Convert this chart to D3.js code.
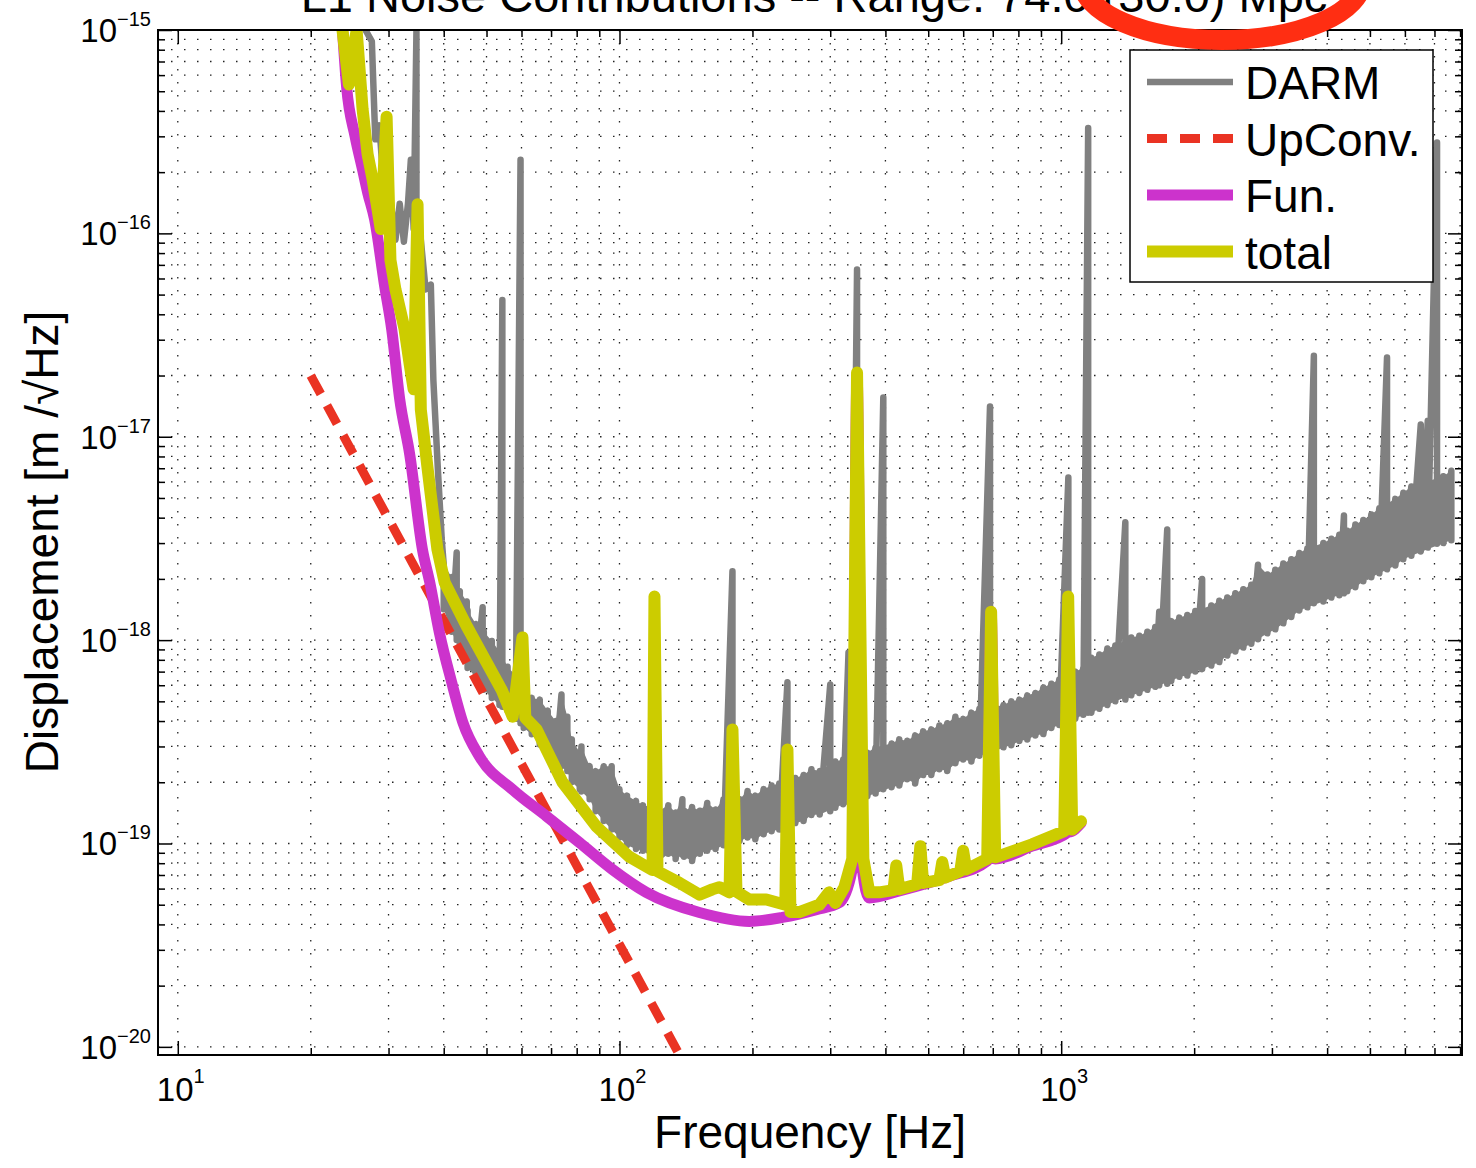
<!DOCTYPE html>
<html>
<head>
<meta charset="utf-8">
<script src="https://cdn.jsdelivr.net/npm/d3@7"></script>
<style>
  body { margin: 0; background: #fff; }
  svg { display: block; font-family: Helvetica, Arial, "Liberation Sans", sans-serif; }
</style>
</head>
<body>
<div id="chart"></div>
<script>
// ---- data ----

// DARM: dense spectrum, stored as min/max per frequency bin (plus single-valued trace at low f)
var darmFreq = [
  26.6, 27.5, 28.0, 28.6, 29.2, 30.2, 31.1, 31.8, 32.5, 33.2,
  33.7, 34.2, 34.7, 35.5, 36.4, 37.4, 37.9, 38.8, 39.6, 40,
  41.7, 42.8, 43.5, 45.1, 45.3, 47.3, 49.0, 49.3, 51.4, 53.5,
  54.3, 55.8, 58.2, 59.7, 60.7, 63.3, 66, 68.8, 71.7, 73.9,
  76.2, 78, 81.3, 82, 85.6, 88.3, 92.1, 96, 100, 104,
  109, 113, 118, 123, 129, 134, 138.8, 140, 146, 152,
  158, 165, 172, 180.2, 187, 195, 203, 212, 221, 230,
  240, 250, 261, 272, 284, 300, 308, 321, 330, 335,
  345, 364, 380, 395.6, 413, 430, 448, 467, 487, 508,
  530, 552, 576, 600, 626, 653, 690, 709, 740, 771,
  804, 838, 874, 911, 950, 990, 1038, 1076, 1122, 1151,
  1170, 1220, 1272, 1326, 1397, 1441, 1503, 1567, 1633, 1667,
  1738, 1775, 1851, 1930, 2012, 2085, 2187, 2280, 2377, 2479,
  2584, 2694, 2790, 2929, 3053, 3183, 3319, 3460, 3608, 3733,
  3922, 4089, 4263, 4367, 4444, 4634, 4831, 5037, 5251, 5466,
  5708, 5951, 6205, 6517, 6760, 7094, 7331, 7643
];
var darmHigh = [
  1.0e-15, 8.8e-16, 2.9e-16, 3.4e-16, 1.8e-16, 1.55e-16, 9.3e-17, 1.4e-16, 9.1e-17, 1.4e-16,
  2.3e-16, 1.05e-16, 1.0e-15, 9.3e-17, 5.3e-17, 5.6e-17, 1.9e-17, 6.9e-18, 3.1e-18, 2.36e-18,
  2.04e-18, 2.7e-18, 1.74e-18, 1.55e-18, 1.4e-18, 1.2e-18, 1.45e-18, 1.1e-18, 9.9e-19, 8.8e-19,
  4.7e-17, 7.4e-19, 6.7e-19, 2.3e-16, 5.9e-19, 5.2e-19, 5.1e-19, 4.5e-19, 4.0e-19, 5.4e-19,
  4.2e-19, 3.25e-19, 2.8e-19, 3.0e-19, 2.4e-19, 2.27e-19, 2.4e-19, 2.4e-19, 1.85e-19, 1.72e-19,
  1.62e-19, 1.54e-19, 1.51e-19, 1.45e-19, 1.54e-19, 1.42e-19, 1.65e-19, 1.45e-19, 1.51e-19, 1.45e-19,
  1.58e-19, 1.47e-19, 1.65e-19, 2.18e-18, 1.65e-19, 1.81e-19, 1.72e-19, 1.85e-19, 1.93e-19, 1.97e-19,
  6.2e-19, 2.1e-19, 2.17e-19, 2.32e-19, 2.27e-19, 6.05e-19, 2.53e-19, 2.59e-19, 8.7e-19, 2.7e-19,
  6.65e-17, 2.8e-19, 2.97e-19, 1.56e-17, 3.1e-19, 3.25e-19, 3.2e-19, 3.4e-19, 3.56e-19, 3.64e-19,
  3.8e-19, 3.9e-19, 4.2e-19, 4.1e-19, 4.4e-19, 4.6e-19, 1.41e-17, 4.7e-19, 4.8e-19, 5.0e-19,
  5.1e-19, 5.35e-19, 5.5e-19, 5.85e-19, 6.1e-19, 6.4e-19, 6.3e-18, 7.0e-19, 7.3e-19, 3.3e-16,
  8.2e-19, 8.5e-19, 9.1e-19, 9.4e-19, 3.8e-18, 1.03e-18, 1.05e-18, 1.1e-18, 1.16e-18, 1.38e-18,
  3.5e-18, 1.24e-18, 1.29e-18, 1.33e-18, 1.39e-18, 2.0e-18, 1.48e-18, 1.56e-18, 1.62e-18, 1.7e-18,
  1.78e-18, 1.87e-18, 2.35e-18, 2.1e-18, 2.22e-18, 2.38e-18, 2.5e-18, 2.68e-18, 2.82e-18, 2.5e-17,
  3.0e-18, 3.15e-18, 3.3e-18, 4.1e-18, 3.45e-18, 3.7e-18, 3.9e-18, 4.15e-18, 4.45e-18, 2.45e-17,
  4.95e-18, 5.3e-18, 5.7e-18, 1.15e-17, 1.2e-17, 2.8e-16, 6.4e-18, 6.8e-18
];
var darmLow = [
  1.0e-15, 8.8e-16, 2.9e-16, 3.4e-16, 1.8e-16, 1.55e-16, 9.3e-17, 1.4e-16, 9.1e-17, 1.4e-16,
  2.3e-16, 1.05e-16, 1.1e-16, 9.3e-17, 5.3e-17, 5.6e-17, 1.9e-17, 6.9e-18, 3.1e-18, 1.42e-18,
  1.1e-18, 1.0e-18, 9.0e-19, 7.8e-19, 7.3e-19, 6.6e-19, 5.9e-19, 5.7e-19, 5.2e-19, 4.8e-19,
  4.7e-19, 4.5e-19, 4.1e-19, 3.9e-19, 3.7e-19, 3.44e-19, 3.07e-19, 2.8e-19, 2.45e-19, 2.4e-19,
  2.27e-19, 2.0e-19, 1.85e-19, 1.8e-19, 1.65e-19, 1.44e-19, 1.29e-19, 1.17e-19, 1.07e-19, 9.8e-20,
  9.4e-20, 9.2e-20, 8.6e-20, 8.2e-20, 8.9e-20, 8.4e-20, 8.8e-20, 8.6e-20, 8.2e-20, 8.9e-20,
  9.2e-20, 9.4e-20, 9.8e-20, 9.9e-20, 1.03e-19, 1.07e-19, 1.05e-19, 1.11e-19, 1.15e-19, 1.17e-19,
  1.2e-19, 1.26e-19, 1.29e-19, 1.38e-19, 1.39e-19, 1.44e-19, 1.5e-19, 1.56e-19, 1.6e-19, 1.61e-19,
  1.65e-19, 1.71e-19, 1.76e-19, 1.85e-19, 1.89e-19, 1.93e-19, 2.07e-19, 1.97e-19, 2.17e-19, 2.17e-19,
  2.32e-19, 2.27e-19, 2.48e-19, 2.59e-19, 2.53e-19, 2.7e-19, 2.75e-19, 2.84e-19, 2.97e-19, 3.04e-19,
  3.19e-19, 3.25e-19, 3.4e-19, 3.45e-19, 3.7e-19, 3.82e-19, 3.93e-19, 4.1e-19, 4.3e-19, 4.4e-19,
  4.4e-19, 4.6e-19, 4.8e-19, 5.0e-19, 5.1e-19, 5.35e-19, 5.5e-19, 5.7e-19, 5.9e-19, 6.0e-19,
  6.1e-19, 6.3e-19, 6.6e-19, 6.7e-19, 7.0e-19, 7.2e-19, 7.5e-19, 7.8e-19, 8.4e-19, 8.8e-19,
  9.2e-19, 9.6e-19, 1.01e-18, 1.08e-18, 1.13e-18, 1.21e-18, 1.3e-18, 1.4e-18, 1.45e-18, 1.52e-18,
  1.55e-18, 1.62e-18, 1.66e-18, 1.7e-18, 1.74e-18, 1.82e-18, 1.95e-18, 2.04e-18, 2.13e-18, 2.23e-18,
  2.33e-18, 2.5e-18, 2.6e-18, 2.73e-18, 2.85e-18, 2.98e-18, 3.0e-18, 3.1e-18
];

// UpConv.: straight falling line
var upconvFreq = [20, 140];
var upconvVal = [2.0e-17, 8.3e-21];

// Fun.
var funFreq = [
  23.6, 24.1, 25.2, 26.2, 26.9, 27.9, 29.4, 30.5, 31.8, 33.5,
  35.8, 37.2, 39.1, 41.7, 44.2, 48.2, 57.3, 68.4, 81.2, 96.4,
  115, 151.7, 196.8, 233.8, 279, 314.6, 336.5, 345, 354.6, 367.8,
  430, 557.8, 680, 694, 709, 859, 1033, 1037, 1042, 1109
];
var funVal = [
  1.0e-15, 5.3e-16, 3.0e-16, 2.06e-16, 1.59e-16, 1.17e-16, 5.5e-17, 3.37e-17, 1.53e-17, 8.2e-18,
  2.79e-18, 1.92e-18, 1.09e-18, 6.2e-19, 3.94e-19, 2.68e-19, 1.84e-19, 1.36e-19, 1.01e-19, 7.45e-20,
  5.75e-20, 4.58e-20, 4.14e-20, 4.33e-20, 4.73e-20, 5.12e-20, 7.5e-20, 2.0e-17, 7.5e-20, 5.4e-20,
  5.85e-20, 6.9e-20, 8.2e-20, 1.38e-18, 8.4e-20, 9.7e-20, 1.13e-19, 1.6e-18, 1.14e-19, 1.26e-19
];

// total
var totalFreq = [
  23.6, 24.4, 25.4, 26.2, 26.9, 27.6, 28.35, 28.8, 29.7, 30.3,
  31.1, 32.6, 33.5, 34.2, 34.9, 35.5, 36.8, 38.7, 40.2, 45.1,
  54.1, 57.3, 60.3, 61.2, 64.9, 74.3, 88.7, 105.3, 118.8, 120,
  121.9, 136.7, 151.7, 162.3, 168.3, 177.5, 180.2, 184, 196.8, 215,
  237.4, 240, 243.8, 255.4, 283.5, 298, 308, 323, 336.5, 345,
  356.5, 367.8, 387.4, 417, 423.3, 430, 472, 479.8, 487, 529.6,
  538, 546.6, 590.8, 600, 609.5, 680, 694, 709, 859, 1016,
  1037, 1059, 1109
];
var totalVal = [
  1.0e-15, 5.4e-16, 1.0e-15, 4.1e-16, 2.45e-16, 1.85e-16, 1.3e-16, 1.05e-16, 3.75e-16, 7.4e-17,
  5.3e-17, 3.4e-17, 2.27e-17, 1.71e-17, 1.39e-16, 1.36e-17, 6.9e-18, 2.8e-18, 1.92e-18, 1.17e-18,
  5.7e-19, 4.2e-19, 1.03e-18, 4.15e-19, 3.64e-19, 2.0e-19, 1.21e-19, 8.6e-20, 7.4e-20, 1.64e-18,
  7.3e-20, 6.4e-20, 5.6e-20, 5.95e-20, 6.1e-20, 5.75e-20, 3.64e-19, 5.8e-20, 5.3e-20, 5.3e-20,
  5.0e-20, 2.9e-19, 4.6e-20, 4.6e-20, 5.0e-20, 5.75e-20, 5.1e-20, 6.1e-20, 8.4e-20, 2.07e-17,
  8.4e-20, 5.75e-20, 5.75e-20, 5.9e-20, 7.8e-20, 5.95e-20, 6.3e-20, 9.7e-20, 6.4e-20, 6.6e-20,
  8.1e-20, 6.8e-20, 7.3e-20, 9.2e-20, 7.45e-20, 8.4e-20, 1.38e-18, 8.55e-20, 9.9e-20, 1.15e-19,
  1.64e-18, 1.17e-19, 1.285e-19
];

// axes: tick values and labels
var xTickValues = [10, 100, 1000];
var xTickExps = ["1", "2", "3"];
var yTickValues = [1e-15, 1e-16, 1e-17, 1e-18, 1e-19, 1e-20];
var yTickExps = ["\u221215", "\u221216", "\u221217", "\u221218", "\u221219", "\u221220"];

var legendNames = ["DARM", "UpConv.", "Fun.", "total"];
var titleText = "L1 Noise Contributions -- Range: 74.0 (30.0) Mpc";

// ---- layout ----
var W = 1476, H = 1168;
var margin = {left: 158, top: 30};
var plotW = 1304, plotH = 1025;
var plotLeft = margin.left, plotRight = margin.left + plotW;
var plotTop = margin.top, plotBottom = margin.top + plotH;

var colors = {darm: "#808080", upconv: "#EA3323", fun: "#CC33CC", total: "#CCCC00"};

var svg = d3.select("#chart").append("svg")
    .attr("width", W)
    .attr("height", H);

var x = d3.scaleLog().domain([9.02, 8080]).range([plotLeft, plotRight]);
var y = d3.scaleLog().domain([9.12e-21, 1e-15]).range([plotBottom, plotTop]);

// minor tick positions (2..9 per decade)
var xMinor = [], yMinor = [];
[10, 100, 1000].forEach(function(d) {
    for (var k = 2; k <= 9; k++) if (k * d < 8080) xMinor.push(k * d);
});
[1e-20, 1e-19, 1e-18, 1e-17, 1e-16].forEach(function(d) {
    for (var k = 2; k <= 9; k++) yMinor.push(k * d);
});

// dotted grid
var grid = svg.append("g")
    .attr("stroke", "#222")
    .attr("stroke-width", 1.3)
    .attr("stroke-dasharray", "1.5,11.5");
grid.selectAll("line.gx")
    .data(xTickValues.concat(xMinor))
    .enter().append("line")
    .attr("x1", function(d) { return x(d); })
    .attr("x2", function(d) { return x(d); })
    .attr("y1", plotTop)
    .attr("y2", plotBottom);
grid.selectAll("line.gy")
    .data(yTickValues.concat(yMinor))
    .enter().append("line")
    .attr("y1", function(d) { return y(d); })
    .attr("y2", function(d) { return y(d); })
    .attr("x1", plotLeft)
    .attr("x2", plotRight);

// series
svg.append("clipPath").attr("id", "plot-clip")
    .append("rect")
    .attr("x", plotLeft).attr("y", plotTop)
    .attr("width", plotW).attr("height", plotH);

var series = svg.append("g").attr("clip-path", "url(#plot-clip)");
var line = d3.line()
    .x(function(d) { return x(d[0]); })
    .y(function(d) { return y(d[1]); });

// DARM: fill the noise band between bin minima and maxima (narrow lines left out),
// then trace max -> min of every bin so the spikes and ragged edges show
var bandBins = darmFreq.map(function(f, i) { return [f, darmLow[i], darmHigh[i]]; })
    .filter(function(d) { return d[0] >= 40 && d[2] / d[1] < 2.4; });
series.append("path")
    .datum(bandBins)
    .attr("d", d3.area()
        .x(function(d) { return x(d[0]); })
        .y0(function(d) { return y(d[1]); })
        .y1(function(d) { return y(d[2]); }))
    .attr("fill", colors.darm);

var darmPts = [];
darmFreq.forEach(function(f, i) {
    darmPts.push([f, darmHigh[i]]);
    if (darmLow[i] !== darmHigh[i]) darmPts.push([f, darmLow[i]]);
});
series.append("path")
    .datum(darmPts)
    .attr("d", line)
    .attr("fill", "none")
    .attr("stroke", colors.darm)
    .attr("stroke-width", 6.5)
    .attr("stroke-linejoin", "round")
    .attr("stroke-linecap", "round");

series.append("path")
    .datum(upconvFreq.map(function(f, i) { return [f, upconvVal[i]]; }))
    .attr("d", line)
    .attr("fill", "none")
    .attr("stroke", colors.upconv)
    .attr("stroke-width", 9)
    .attr("stroke-dasharray", "21,13");

series.append("path")
    .datum(funFreq.map(function(f, i) { return [f, funVal[i]]; }))
    .attr("d", line.curve(d3.curveMonotoneX))
    .attr("fill", "none")
    .attr("stroke", colors.fun)
    .attr("stroke-width", 11)
    .attr("stroke-linejoin", "round")
    .attr("stroke-linecap", "round");
line.curve(d3.curveLinear);

series.append("path")
    .datum(totalFreq.map(function(f, i) { return [f, totalVal[i]]; }))
    .attr("d", line)
    .attr("fill", "none")
    .attr("stroke", colors.total)
    .attr("stroke-width", 12)
    .attr("stroke-linejoin", "round")
    .attr("stroke-linecap", "round");

// ticks on all four sides, pointing inward
function drawTicks(axis, tx, ty) {
    svg.append("g")
        .attr("transform", "translate(" + tx + "," + ty + ")")
        .call(axis.tickSizeOuter(0).tickFormat(""))
        .call(function(g) {
            g.select(".domain").remove();
            g.selectAll("line").attr("stroke", "#000").attr("stroke-width", 1.5);
        });
}
drawTicks(d3.axisBottom(x).tickValues(xTickValues).tickSizeInner(-14), 0, plotBottom);
drawTicks(d3.axisBottom(x).tickValues(xMinor).tickSizeInner(-7), 0, plotBottom);
drawTicks(d3.axisTop(x).tickValues(xTickValues).tickSizeInner(-14), 0, plotTop);
drawTicks(d3.axisTop(x).tickValues(xMinor).tickSizeInner(-7), 0, plotTop);
drawTicks(d3.axisLeft(y).tickValues(yTickValues).tickSizeInner(-14), plotLeft, 0);
drawTicks(d3.axisLeft(y).tickValues(yMinor).tickSizeInner(-7), plotLeft, 0);
drawTicks(d3.axisRight(y).tickValues(yTickValues).tickSizeInner(-14), plotRight, 0);
drawTicks(d3.axisRight(y).tickValues(yMinor).tickSizeInner(-7), plotRight, 0);

// frame
svg.append("rect")
    .attr("x", plotLeft).attr("y", plotTop)
    .attr("width", plotW).attr("height", plotH)
    .attr("fill", "none")
    .attr("stroke", "#000")
    .attr("stroke-width", 2);

// tick labels (10 with superscript exponent)
var xLab = svg.append("g").selectAll("text")
    .data(xTickValues)
    .enter().append("text")
    .attr("x", function(d) { return x(d) + 3; })
    .attr("y", 1101)
    .attr("text-anchor", "middle")
    .attr("fill", "#000");
xLab.append("tspan").attr("font-size", 33).text("10");
xLab.append("tspan").attr("font-size", 20).attr("dy", -18)
    .text(function(d, i) { return xTickExps[i]; });

var yLab = svg.append("g").selectAll("text")
    .data(yTickValues)
    .enter().append("text")
    .attr("x", 151)
    .attr("y", function(d) { return y(d) + 12; })
    .attr("text-anchor", "end")
    .attr("fill", "#000");
yLab.append("tspan").attr("font-size", 33).text("10");
yLab.append("tspan").attr("font-size", 20).attr("dy", -16)
    .text(function(d, i) { return yTickExps[i]; });

// axis titles
svg.append("text")
    .attr("x", 810).attr("y", 1148)
    .attr("text-anchor", "middle")
    .attr("font-size", 46)
    .text("Frequency [Hz]");

svg.append("text")
    .attr("transform", "translate(58,542) rotate(-90)")
    .attr("text-anchor", "middle")
    .attr("font-size", 46)
    .text("Displacement [m /\u221AHz]");

// title, cut off at the top edge as in the reference
svg.append("text")
    .attr("x", 814).attr("y", 12)
    .attr("text-anchor", "middle")
    .attr("font-size", 47)
    .text(titleText);

// legend
var legend = svg.append("g");
legend.append("rect")
    .attr("x", 1130).attr("y", 50)
    .attr("width", 303).attr("height", 232)
    .attr("fill", "#fff")
    .attr("stroke", "#000")
    .attr("stroke-width", 1.5);
var legendColors = [colors.darm, colors.upconv, colors.fun, colors.total];
var legendWidths = [6.5, 9, 11, 12];
legendNames.forEach(function(name, i) {
    var ly = 82 + i * 56.5;
    var l = legend.append("line")
        .attr("x1", 1147).attr("x2", 1233)
        .attr("y1", ly).attr("y2", ly)
        .attr("stroke", legendColors[i])
        .attr("stroke-width", legendWidths[i]);
    if (i === 1) l.attr("stroke-dasharray", "20,13");
    legend.append("text")
        .attr("x", 1245).attr("y", ly + 17)
        .attr("font-size", 46)
        .text(name);
});

// red hand-drawn ellipse over the title
svg.append("ellipse")
    .attr("cx", 1222).attr("cy", -20)
    .attr("rx", 140).attr("ry", 60)
    .attr("fill", "none")
    .attr("stroke", "#FF2E12")
    .attr("stroke-width", 20);
</script>
</body>
</html>
